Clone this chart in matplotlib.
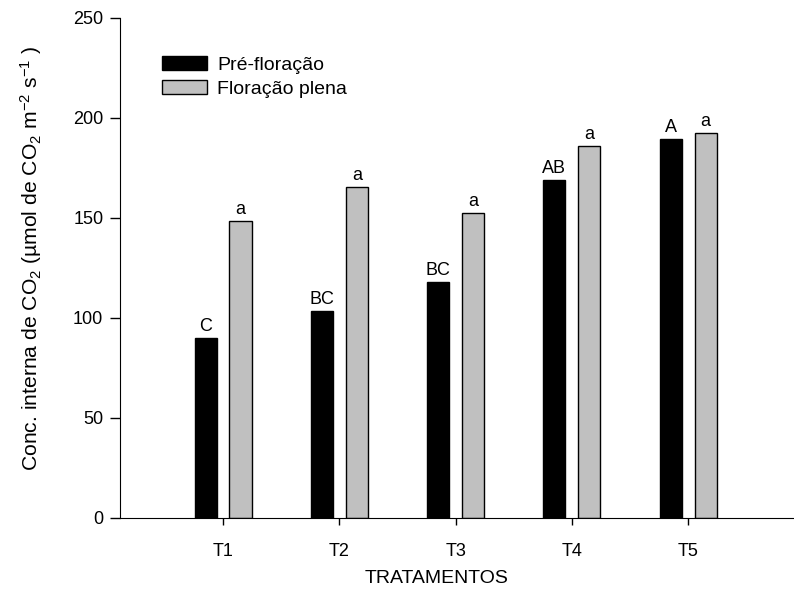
import numpy as np
import matplotlib
matplotlib.use('Agg')
import matplotlib.pyplot as plt

# dados
tratamentos = ['T1', 'T2', 'T3', 'T4', 'T5']
pre_floracao = [90.0, 103.7, 117.8, 168.8, 189.7]
floracao_plena = [148.7, 165.5, 152.3, 185.8, 192.5]
letras_pre = ['C', 'BC', 'BC', 'AB', 'A']
letras_plena = ['a', 'a', 'a', 'a', 'a']

plt.rcParams['font.family'] = ['Liberation Sans', 'DejaVu Sans']
plt.rcParams['mathtext.fontset'] = 'custom'
plt.rcParams['mathtext.rm'] = 'Liberation Sans'
plt.rcParams['mathtext.it'] = 'Liberation Sans:italic'
plt.rcParams['mathtext.bf'] = 'Liberation Sans:bold'

fig = plt.figure(figsize=(7.94, 5.89), dpi=100)
ax = fig.add_axes([120 / 794, 1 - 518 / 589, 674 / 794, 500 / 589])

x = np.arange(1, len(tratamentos) + 1)
largura = 0.19
desloc = 0.15

ax.bar(x - desloc, pre_floracao, largura, color='black', edgecolor='black',
       linewidth=1, label='Pré-floração')
ax.bar(x + desloc, floracao_plena, largura, color='#c0c0c0', edgecolor='black',
       linewidth=1, label='Floração plena')

for xi, v, l in zip(x - desloc, pre_floracao, letras_pre):
    ax.text(xi, v + 1.5, l, ha='center', va='bottom', fontsize=13)
for xi, v, l in zip(x + desloc, floracao_plena, letras_plena):
    ax.text(xi, v + 1.5, l, ha='center', va='bottom', fontsize=13)

ax.set_xlim(0.114, 5.91)
ax.set_ylim(0, 250)
ax.set_yticks([0, 50, 100, 150, 200, 250])
ax.set_xticks(x)
ax.set_xticklabels(tratamentos)
ax.tick_params(axis='both', labelsize=13, direction='out', width=1)
ax.tick_params(axis='y', length=7, pad=5)
ax.tick_params(axis='x', length=5, pad=13)

ax.spines['top'].set_visible(False)
ax.spines['right'].set_visible(False)

ax.set_xlabel('TRATAMENTOS', fontsize=14)
ax.xaxis.set_label_coords(0.470, -0.104)
ax.set_ylabel(r'Conc. interna de CO$_2$ (µmol de CO$_2$ m$^{-2}$ s$^{-1}$ )',
              fontsize=15.2)
ax.yaxis.set_label_coords(-0.113, 0.52)

ax.legend(loc='upper left', bbox_to_anchor=(0.062, 0.925), frameon=False,
          fontsize=14, handlelength=2.3, handleheight=0.8,
          handletextpad=0.55, labelspacing=0.3, borderpad=0, borderaxespad=0)

fig.savefig('out.png', dpi=100)
